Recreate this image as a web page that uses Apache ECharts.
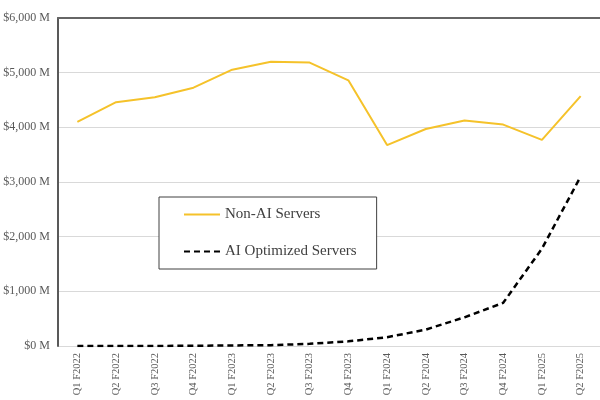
<!DOCTYPE html>
<html><head><meta charset="utf-8">
<script src="https://cdn.jsdelivr.net/npm/echarts@6/dist/echarts.min.js"></script>
<style>html,body{margin:0;padding:0;background:#fff}#c{width:600px;height:400px}</style>
</head><body><div id="c"></div>
<script>
const categories = ["Q1 F2022","Q2 F2022","Q3 F2022","Q4 F2022","Q1 F2023","Q2 F2023","Q3 F2023","Q4 F2023","Q1 F2024","Q2 F2024","Q3 F2024","Q4 F2024","Q1 F2025","Q2 F2025"];
const nonAI = [4100,4460,4550,4725,5055,5200,5185,4860,3675,3970,4125,4050,3770,4570];
const aiOptimized = [0,0,0,5,10,15,40,85,160,300,525,790,1780,3100];
const yTicks = [0,1000,2000,3000,4000,5000,6000];
const FONT = "Liberation Serif";
const chart = echarts.init(document.getElementById('c'));
chart.setOption({
  animation:false,
  grid:{left:58,right:0,top:18,bottom:54},
  legend:{
    orient:'vertical', left:159, top:197,
    padding:[10,20,10,24], itemGap:22, itemWidth:36, itemHeight:14,
    borderColor:'#404040', borderWidth:1, backgroundColor:'#fff',
    textStyle:{fontFamily:FONT,fontSize:15,color:'#404040'},
    itemStyle:{opacity:0},
    data:['Non-AI Servers','AI Optimized Servers']
  },
  xAxis:[{
    type:'category', data:categories, boundaryGap:true,
    axisLine:{show:false}, axisTick:{show:false},
    axisLabel:{rotate:90,fontFamily:FONT,fontSize:10.5,color:'#595959',margin:7,interval:0}
  },{
    type:'category', data:categories, position:'top',
    axisLine:{show:true,lineStyle:{color:'#666',width:2}}, axisTick:{show:false}, axisLabel:{show:false}
  }],
  yAxis:{
    type:'value', min:yTicks[0], max:yTicks[yTicks.length-1], interval:1000,
    axisLine:{show:true,lineStyle:{color:'#595959',width:2}}, axisTick:{show:false},
    splitLine:{lineStyle:{color:'#d9d9d9',width:1}},
    axisLabel:{fontFamily:FONT,fontSize:12,color:'#595959',margin:8,
      formatter:v=>'$'+v.toLocaleString('en-US')+' M'}
  },
  series:[
    {name:'Non-AI Servers',type:'line',data:nonAI,symbol:'none',z:3,
     lineStyle:{color:'#F5C22A',width:2},itemStyle:{color:'#F5C22A'}},
    {name:'AI Optimized Servers',type:'line',data:aiOptimized,symbol:'none',z:4,
     lineStyle:{color:'#000',width:2.5,type:[6,4]},itemStyle:{color:'#000'}}
  ]
});
</script></body></html>
